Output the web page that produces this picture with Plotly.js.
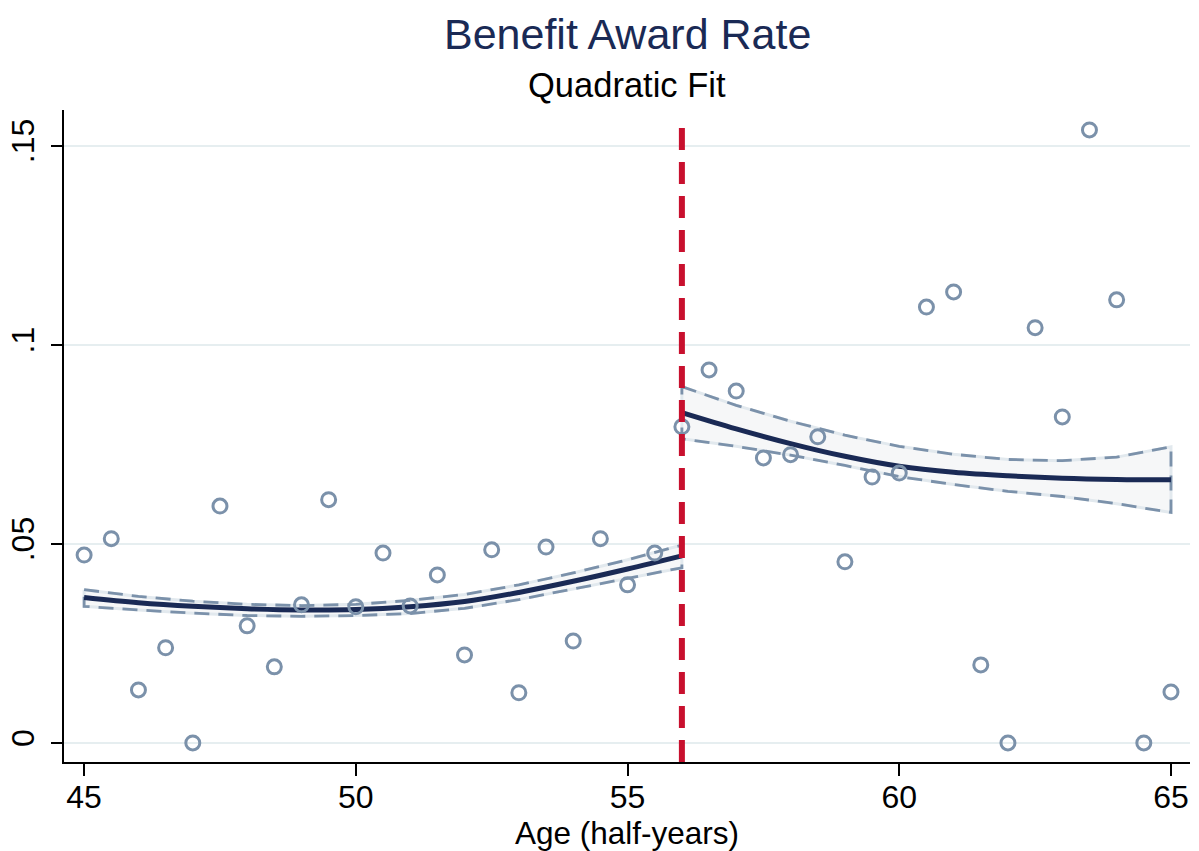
<!DOCTYPE html>
<html>
<head>
<meta charset="utf-8">
<script src="https://cdn.plot.ly/plotly-3.0.1.min.js"></script>
<style>html,body{margin:0;padding:0;background:#fff;}#chart{width:1199px;height:851px;}</style>
</head>
<body>
<div id="chart"></div>
<script>
// Scatter data: age (half-years) and benefit award rate
const ages = [45,45.5,46,46.5,47,47.5,48,48.5,49,49.5,50,50.5,51,51.5,52,52.5,53,53.5,54,54.5,55,55.5,
              56,56.5,57,57.5,58,58.5,59,59.5,60,60.5,61,61.5,62,62.5,63,63.5,64,64.5,65];
const rates = [0.0472,0.0513,0.0133,0.0239,0.0,0.0595,0.0294,0.0191,0.0347,0.0611,0.0342,0.0477,0.0344,0.0422,0.0221,0.0485,0.0126,0.0492,0.0256,0.0513,0.0397,0.0477,
               0.0794,0.0937,0.0884,0.0716,0.0724,0.0769,0.0455,0.0668,0.0678,0.1095,0.1133,0.0196,0.0,0.1043,0.0819,0.1540,0.1113,0.0,0.0128];

// Quadratic fit with 95% CI, left of cutoff
const fitLeftX = [45,46,47,48,49,50,51,52,53,54,55,56];
const fitLeftY = [0.0365,0.0352,0.0343,0.0337,0.0334,0.0335,0.0342,0.0355,0.0378,0.0406,0.0437,0.0470];
const ciLeftUp = [0.0385,0.0368,0.0356,0.0348,0.0345,0.0348,0.0358,0.0373,0.0397,0.0427,0.0460,0.0497];
const ciLeftLo = [0.0343,0.0334,0.0326,0.0320,0.0318,0.0320,0.0325,0.0338,0.0360,0.0386,0.0413,0.0440];

// Quadratic fit with 95% CI, right of cutoff
const fitRightX = [56,57,58,59,60,61,62,63,64,65];
const fitRightY = [0.0830,0.0789,0.0752,0.0720,0.0695,0.0680,0.0671,0.0665,0.0662,0.0661];
const ciRightUp = [0.0895,0.0848,0.0808,0.0773,0.0745,0.0725,0.0712,0.0709,0.0718,0.0744];
const ciRightLo = [0.0764,0.0745,0.0723,0.0697,0.0669,0.0649,0.0632,0.0619,0.0601,0.0579];

const cutoff = 56;
const xTicks = [45,50,55,60,65];
const yTicks = [0,0.05,0.1,0.15];
const yTickText = ['0','.05','.1','.15'];

const navy = '#1a2a55';
const slate = '#7b91aa';

function outline(xs, up, lo) {
  const px = xs.concat(xs.slice().reverse()); px.push(xs[0]);
  const py = up.concat(lo.slice().reverse()); py.push(up[0]);
  return {px, py};
}
function bandFill(xs, up, lo) {
  const o = outline(xs, up, lo);
  return {x: o.px, y: o.py, type: 'scatter', mode: 'lines', fill: 'toself',
    fillcolor: 'rgba(246,247,248,1)', line: {color: '#e2e9ee', width: 3},
    hoverinfo: 'skip', showlegend: false};
}
function bandDash(xs, up, lo) {
  const o = outline(xs, up, lo);
  return {x: o.px, y: o.py, type: 'scatter', mode: 'lines',
    line: {color: slate, width: 2.8, dash: '15px,9px'}, showlegend: false};
}
function fit(xs, ys) {
  return {x: xs, y: ys, type: 'scatter', mode: 'lines',
    line: {color: navy, width: 5, shape: 'spline'}, showlegend: false};
}

const traces = [
  bandFill(fitLeftX, ciLeftUp, ciLeftLo),
  bandFill(fitRightX, ciRightUp, ciRightLo),
  bandDash(fitLeftX, ciLeftUp, ciLeftLo),
  bandDash(fitRightX, ciRightUp, ciRightLo),
  fit(fitLeftX, fitLeftY), fit(fitRightX, fitRightY),
  {x: ages, y: rates, type: 'scatter', mode: 'markers',
   marker: {symbol: 'circle-open', size: 14, color: slate, line: {width: 3, color: slate}},
   showlegend: false}
];

const layout = {
  width: 1199, height: 851,
  paper_bgcolor: '#fff', plot_bgcolor: '#fff',
  margin: {l: 64, r: 9, t: 110, b: 89},
  font: {family: 'Liberation Sans, Arial, sans-serif', color: '#000'},
  annotations: [
    {text: 'Benefit Award Rate', xref: 'paper', yref: 'paper', x: 0.5, y: 1.117,
     xanchor: 'center', yanchor: 'middle', showarrow: false, font: {size: 43, color: navy}},
    {text: 'Quadratic Fit', xref: 'paper', yref: 'paper', x: 0.5, y: 1.038,
     xanchor: 'center', yanchor: 'middle', showarrow: false, font: {size: 34.5, color: '#000'}}
  ],
  xaxis: {
    range: [44.63, 65.35], tickvals: xTicks, ticktext: xTicks.map(String),
    ticks: 'outside', ticklen: 12, tickwidth: 2, tickcolor: '#000',
    showline: true, linecolor: '#000', linewidth: 2, showgrid: false, zeroline: false,
    tickfont: {size: 32, color: '#000'}, ticklabelstandoff: -6,
    title: {text: 'Age (half-years)', font: {size: 31.5, color: '#000'}, standoff: 4}
  },
  yaxis: {
    range: [-0.0048, 0.159], tickvals: yTicks, ticktext: yTickText, tickangle: -90,
    ticks: 'outside', ticklen: 11, tickwidth: 2, tickcolor: '#000',
    showline: true, linecolor: '#000', linewidth: 2,
    showgrid: true, gridcolor: '#e6eef0', gridwidth: 2, zeroline: false,
    tickfont: {size: 32, color: '#000'}, ticklabelstandoff: 4
  },
  shapes: [{type: 'line', xref: 'x', yref: 'paper', x0: cutoff, x1: cutoff, y0: 0, y1: 0.988,
            line: {color: '#c8102e', width: 6, dash: '22px,12px'}}]
};

Plotly.newPlot('chart', traces, layout, {displayModeBar: false, staticPlot: true});
</script>
</body>
</html>
